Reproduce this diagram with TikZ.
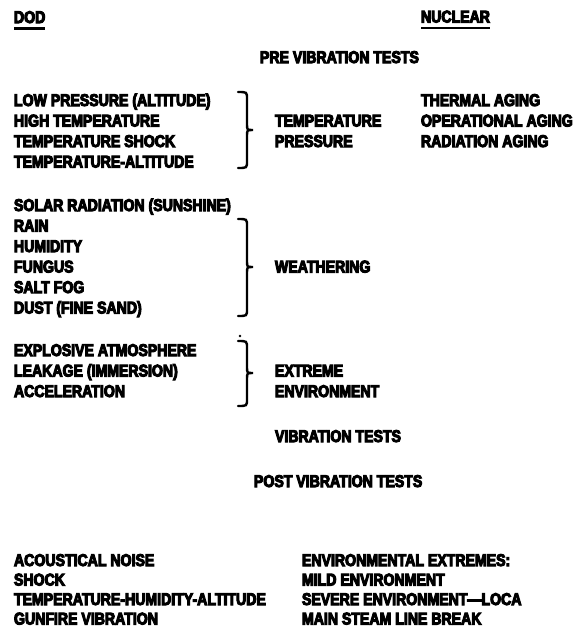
\documentclass[tikz,border=0pt]{standalone}
\usepackage{fontspec}
\newfontfamily\reffont{Liberation Sans}[UprightFont={* Bold}, FakeStretch=0.83, FakeBold=6]
\begin{document}
\begin{tikzpicture}[x=1pt,y=-1pt,
  txt/.style={anchor=base west, inner sep=0pt, outer sep=0pt, font=\reffont\fontsize{17}{20}\selectfont},
  refbrace/.style={line width=2.4pt, line cap=round},
  uline/.style={line width=2.8pt}]
\fill[white] (0,0) rectangle (578,632);
\useasboundingbox (0,0) rectangle (578,632);
% headings
\node[txt] (dod) at (14,23) {DOD};
\node[txt] (nuclear) at (421,22.5) {NUCLEAR};
\draw[uline] ([yshift=-5.5pt]dod.base west) -- ([yshift=-5.5pt]dod.base east);
\draw[uline] ([yshift=-5.5pt]nuclear.base west) -- ([yshift=-5.5pt]nuclear.base east);
\node[txt] (pre) at (260,63) {PRE VIBRATION TESTS};
% group 1
\node[txt] (g1a) at (14,106) {LOW PRESSURE (ALTITUDE)};
\node[txt] (g1b) at (14,126.5) {HIGH TEMPERATURE};
\node[txt] (g1c) at (14,147) {TEMPERATURE SHOCK};
\node[txt] (g1d) at (14,167.5) {TEMPERATURE-ALTITUDE};
\draw[refbrace] (238,92) .. controls (247,92) .. (247,99) -- (247,124) .. controls (247,130) .. (253,130) .. controls (247,130) .. (247,136) -- (247,161) .. controls (247,168) .. (238,168);
\node[txt] (temp) at (275,126.5) {TEMPERATURE};
\node[txt] (press) at (275,147) {PRESSURE};
\node[txt] (n1) at (421,106) {THERMAL AGING};
\node[txt] (n2) at (421,126.5) {OPERATIONAL AGING};
\node[txt] (n3) at (421,147) {RADIATION AGING};
% group 2
\node[txt] (g2a) at (14,211) {SOLAR RADIATION (SUNSHINE)};
\node[txt] (g2b) at (14,231.5) {RAIN};
\node[txt] (g2c) at (14,252) {HUMIDITY};
\node[txt] (g2d) at (14,272.5) {FUNGUS};
\node[txt] (g2e) at (14,293) {SALT FOG};
\node[txt] (g2f) at (14,313.5) {DUST (FINE SAND)};
\draw[refbrace] (238,219) .. controls (247,219) .. (247,226) -- (247,261) .. controls (247,267) .. (253,267) .. controls (247,267) .. (247,273) -- (247,309) .. controls (247,316) .. (238,316);
\node[txt] (weath) at (275,272.5) {WEATHERING};
% group 3
\fill (240,336) circle (1.3);
\node[txt] (g3a) at (14,356) {EXPLOSIVE ATMOSPHERE};
\node[txt] (g3b) at (14,376.5) {LEAKAGE (IMMERSION)};
\node[txt] (g3c) at (14,397) {ACCELERATION};
\draw[refbrace] (238,341) .. controls (247,341) .. (247,348) -- (247,367) .. controls (247,373) .. (253,373) .. controls (247,373) .. (247,379) -- (247,399) .. controls (247,406) .. (238,406);
\node[txt] (extr) at (275,376.5) {EXTREME};
\node[txt] (env) at (275,397) {ENVIRONMENT};
% middle headings
\node[txt] (vib) at (275,442) {VIBRATION TESTS};
\node[txt] (post) at (254,487) {POST VIBRATION TESTS};
% bottom
\node[txt] (b1) at (14,566) {ACOUSTICAL NOISE};
\node[txt] (b2) at (14,585.5) {SHOCK};
\node[txt] (b3) at (14,605) {TEMPERATURE-HUMIDITY-ALTITUDE};
\node[txt] (b4) at (14,624.5) {GUNFIRE VIBRATION};
\node[txt] (r1) at (302,566) {ENVIRONMENTAL EXTREMES:};
\node[txt] (r2) at (302,585.5) {MILD ENVIRONMENT};
\node[txt] (r3) at (302,605) {SEVERE ENVIRONMENT—LOCA};
\node[txt] (r4) at (302,624.5) {MAIN STEAM LINE BREAK};
\end{tikzpicture}
\end{document}
